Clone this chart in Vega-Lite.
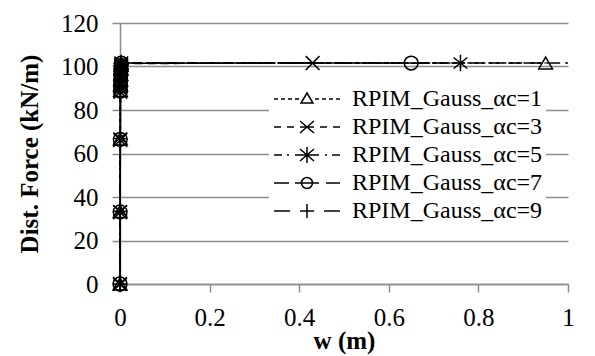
{
  "$schema": "https://vega.github.io/schema/vega-lite/v6.json",
  "width": 448,
  "height": 261,
  "autosize": {"type": "none"},
  "padding": {"left": 120, "top": 23, "right": 27, "bottom": 72},
  "background": "white",
  "config": {"font": "Liberation Serif", "view": {"stroke": null}},
  "datasets": {
    "curves": [
      {"series": "RPIM_Gauss_αc=1", "i": 0, "w": 0, "f": 0},
      {"series": "RPIM_Gauss_αc=1", "i": 1, "w": 0.0003, "f": 33.3},
      {"series": "RPIM_Gauss_αc=1", "i": 2, "w": 0.0006, "f": 66.7},
      {"series": "RPIM_Gauss_αc=1", "i": 3, "w": 0.0009, "f": 88.9},
      {"series": "RPIM_Gauss_αc=1", "i": 4, "w": 0.0012, "f": 91.4},
      {"series": "RPIM_Gauss_αc=1", "i": 5, "w": 0.0015, "f": 93.8},
      {"series": "RPIM_Gauss_αc=1", "i": 6, "w": 0.0018, "f": 96.3},
      {"series": "RPIM_Gauss_αc=1", "i": 7, "w": 0.0021, "f": 98.8},
      {"series": "RPIM_Gauss_αc=1", "i": 8, "w": 0.0024, "f": 100.6},
      {"series": "RPIM_Gauss_αc=1", "i": 9, "w": 0.0027, "f": 101.5},
      {"series": "RPIM_Gauss_αc=1", "i": 10, "w": 0.95, "f": 101.6},
      {"series": "RPIM_Gauss_αc=3", "i": 0, "w": 0, "f": 0},
      {"series": "RPIM_Gauss_αc=3", "i": 1, "w": 0.0003, "f": 33.0},
      {"series": "RPIM_Gauss_αc=3", "i": 2, "w": 0.0006, "f": 66.2},
      {"series": "RPIM_Gauss_αc=3", "i": 3, "w": 0.0009, "f": 88.4},
      {"series": "RPIM_Gauss_αc=3", "i": 4, "w": 0.0012, "f": 91.0},
      {"series": "RPIM_Gauss_αc=3", "i": 5, "w": 0.0015, "f": 93.5},
      {"series": "RPIM_Gauss_αc=3", "i": 6, "w": 0.0018, "f": 96.0},
      {"series": "RPIM_Gauss_αc=3", "i": 7, "w": 0.0021, "f": 98.5},
      {"series": "RPIM_Gauss_αc=3", "i": 8, "w": 0.0024, "f": 100.4},
      {"series": "RPIM_Gauss_αc=3", "i": 9, "w": 0.0027, "f": 101.4},
      {"series": "RPIM_Gauss_αc=3", "i": 10, "w": 0.43, "f": 101.6},
      {"series": "RPIM_Gauss_αc=5", "i": 0, "w": 0, "f": 0},
      {"series": "RPIM_Gauss_αc=5", "i": 1, "w": 0.0003, "f": 33.6},
      {"series": "RPIM_Gauss_αc=5", "i": 2, "w": 0.0006, "f": 67.1},
      {"series": "RPIM_Gauss_αc=5", "i": 3, "w": 0.0009, "f": 89.3},
      {"series": "RPIM_Gauss_αc=5", "i": 4, "w": 0.0012, "f": 91.8},
      {"series": "RPIM_Gauss_αc=5", "i": 5, "w": 0.0015, "f": 94.2},
      {"series": "RPIM_Gauss_αc=5", "i": 6, "w": 0.0018, "f": 96.7},
      {"series": "RPIM_Gauss_αc=5", "i": 7, "w": 0.0021, "f": 99.1},
      {"series": "RPIM_Gauss_αc=5", "i": 8, "w": 0.0024, "f": 100.8},
      {"series": "RPIM_Gauss_αc=5", "i": 9, "w": 0.0027, "f": 101.6},
      {"series": "RPIM_Gauss_αc=5", "i": 10, "w": 0.76, "f": 101.6},
      {"series": "RPIM_Gauss_αc=7", "i": 0, "w": 0, "f": 0},
      {"series": "RPIM_Gauss_αc=7", "i": 1, "w": 0.0003, "f": 33.2},
      {"series": "RPIM_Gauss_αc=7", "i": 2, "w": 0.0006, "f": 66.5},
      {"series": "RPIM_Gauss_αc=7", "i": 3, "w": 0.0009, "f": 88.7},
      {"series": "RPIM_Gauss_αc=7", "i": 4, "w": 0.0012, "f": 91.2},
      {"series": "RPIM_Gauss_αc=7", "i": 5, "w": 0.0015, "f": 93.7},
      {"series": "RPIM_Gauss_αc=7", "i": 6, "w": 0.0018, "f": 96.2},
      {"series": "RPIM_Gauss_αc=7", "i": 7, "w": 0.0021, "f": 98.7},
      {"series": "RPIM_Gauss_αc=7", "i": 8, "w": 0.0024, "f": 100.5},
      {"series": "RPIM_Gauss_αc=7", "i": 9, "w": 0.0027, "f": 101.5},
      {"series": "RPIM_Gauss_αc=7", "i": 10, "w": 0.65, "f": 101.6},
      {"series": "RPIM_Gauss_αc=9", "i": 0, "w": 0, "f": 0},
      {"series": "RPIM_Gauss_αc=9", "i": 1, "w": 0.0003, "f": 33.5},
      {"series": "RPIM_Gauss_αc=9", "i": 2, "w": 0.0006, "f": 66.9},
      {"series": "RPIM_Gauss_αc=9", "i": 3, "w": 0.0009, "f": 89.1},
      {"series": "RPIM_Gauss_αc=9", "i": 4, "w": 0.0012, "f": 91.6},
      {"series": "RPIM_Gauss_αc=9", "i": 5, "w": 0.0015, "f": 94.0},
      {"series": "RPIM_Gauss_αc=9", "i": 6, "w": 0.0018, "f": 96.5},
      {"series": "RPIM_Gauss_αc=9", "i": 7, "w": 0.0021, "f": 98.9},
      {"series": "RPIM_Gauss_αc=9", "i": 8, "w": 0.0024, "f": 100.7},
      {"series": "RPIM_Gauss_αc=9", "i": 9, "w": 0.0027, "f": 101.6},
      {"series": "RPIM_Gauss_αc=9", "i": 10, "w": 1.0, "f": 101.6}
    ]
  },
  "data": {"name": "curves"},
  "encoding": {
    "x": {
      "field": "w", "type": "quantitative",
      "scale": {"domain": [0, 1], "nice": false, "zero": false},
      "axis": {
        "values": [0, 0.2, 0.4, 0.6, 0.8, 1], "format": "~g",
        "title": "w (m)", "grid": false,
        "domainColor": "#8c8c8c", "domainWidth": 1.5, "tickColor": "#8c8c8c", "tickWidth": 1.5, "tickSize": 8,
        "labelFontSize": 25, "labelColor": "black", "labelPadding": 13, "labelFlush": false,
        "titleFontSize": 25, "titleFontWeight": "bold", "titleColor": "black", "titlePadding": -2
      }
    },
    "y": {
      "field": "f", "type": "quantitative",
      "scale": {"domain": [0, 120], "nice": false},
      "axis": {
        "values": [0, 20, 40, 60, 80, 100, 120],
        "title": "Dist. Force (kN/m)", "grid": true,
        "gridColor": "#8c8c8c", "gridWidth": 1.5,
        "domainColor": "#8c8c8c", "domainWidth": 1.5, "tickColor": "#8c8c8c", "tickWidth": 1.5, "tickSize": 8,
        "labelFontSize": 25, "labelColor": "black", "labelPadding": 14,
        "titleFontSize": 25, "titleFontWeight": "bold", "titleColor": "black", "titlePadding": 18
      }
    }
  },
  "resolve": {"scale": {"shape": "independent"}, "legend": {"shape": "independent"}},
  "layer": [
    {
      "mark": {"type": "line", "color": "black", "strokeWidth": 1.6},
      "encoding": {
        "strokeDash": {
          "field": "series", "type": "nominal",
          "scale": {
            "domain": ["RPIM_Gauss_αc=1", "RPIM_Gauss_αc=3", "RPIM_Gauss_αc=5", "RPIM_Gauss_αc=7", "RPIM_Gauss_αc=9"],
            "range": [[4, 3], [8, 5], [8, 4, 2, 4], [14, 5, 5, 5], [14, 5]]
          },
          "legend": null
        },
        "order": {"field": "i", "type": "quantitative"}
      }
    },
    {
      "transform": [{"filter": "datum.w < 1"}],
      "mark": {"type": "point", "filled": false, "color": "black", "strokeWidth": 1.5, "size": 190, "opacity": 1},
      "encoding": {
        "shape": {
          "field": "series", "type": "nominal",
          "scale": {
            "domain": ["RPIM_Gauss_αc=1", "RPIM_Gauss_αc=3", "RPIM_Gauss_αc=5", "RPIM_Gauss_αc=7", "RPIM_Gauss_αc=9"],
            "range": ["triangle-up", "M-1,-1L1,1M-1,1L1,-1", "M-1,-0.8L1,0.8M-1,0.8L1,-0.8M0,-1.2L0,1.2", "circle", "M-1,0L1,0M0,-1L0,1"]
          },
          "legend": null
        }
      }
    },
    {
      "transform": [{"filter": "datum.w > 5"}],
      "mark": {"type": "point", "filled": false, "color": "black", "strokeWidth": 1.5, "size": 400, "opacity": 1},
      "encoding": {
        "shape": {
          "field": "series", "type": "nominal",
          "scale": {
            "domain": ["RPIM_Gauss_αc=1", "RPIM_Gauss_αc=3", "RPIM_Gauss_αc=5", "RPIM_Gauss_αc=7", "RPIM_Gauss_αc=9"],
            "range": [
              "M-1,0L-0.6,0M-0.3,0L0.1,0M0.4,0L0.8,0M1.1,0L1.5,0M3.1,0L3.5,0M3.8,0L4.2,0M4.5,0L4.9,0M5.2,0L5.6,0M1.7,0.4L2.9,0.4L2.3,-0.6Z",
              "M-1,0L-0.3,0M0.3,0L1,0M1.6,0L3,0M3.6,0L4.3,0M4.9,0L5.6,0M1.6,-0.6L3,0.6M1.6,0.6L3,-0.6",
              "M-1,0L-0.2,0M0.3,0L0.5,0M1.1,0L3.5,0M4.1,0L4.3,0M4.8,0L5.6,0M1.6,-0.6L3,0.6M1.6,0.6L3,-0.6M2.3,-0.8L2.3,0.8",
              "M-1,0L0.5,0M1.1,0L3.5,0M4.2,0L5.6,0M2.85,0A0.55,0.55,0,1,1,1.75,0A0.55,0.55,0,1,1,2.85,0",
              "M-1,0L0.6,0M1.6,0L3,0M2.3,-0.7L2.3,0.7M4,0L5.6,0"
            ]
          },
          "legend": {
            "title": null, "orient": "none", "legendX": 149, "legendY": 61,
            "padding": 3, "fillColor": "white", "strokeColor": null,
            "symbolSize": 400, "rowPadding": 4,
            "symbolStrokeColor": "black", "symbolFillColor": "transparent", "symbolStrokeWidth": 1.5, "symbolOpacity": 1,
            "labelFont": "Liberation Serif", "labelFontSize": 24, "labelColor": "black",
            "labelOffset": 56, "labelLimit": 500,
            "labelExpr": "datum.label + '      '"
          }
        }
      }
    }
  ]
}
